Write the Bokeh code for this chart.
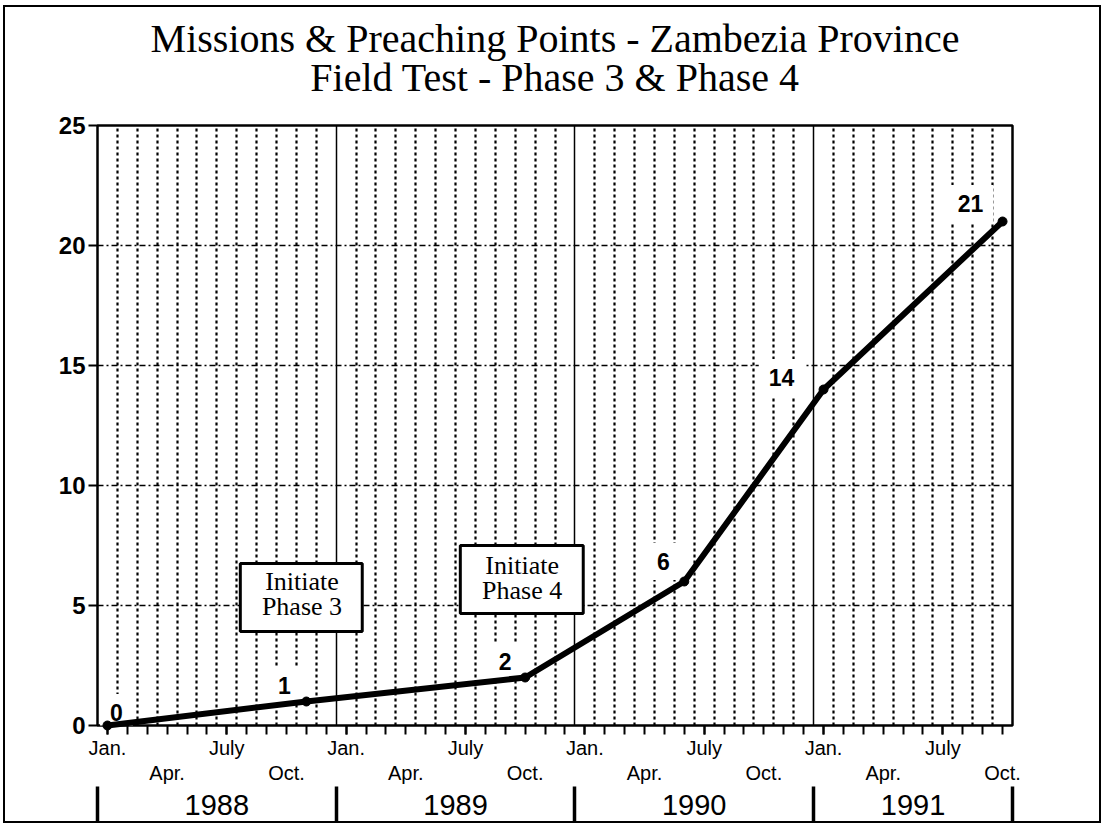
from bokeh.plotting import figure
from bokeh.models import (Range1d, LinearAxis, FixedTicker, Grid, Label,
                          BoxAnnotation, Title)
from bokeh.embed import file_html
from bokeh.resources import INLINE

# ---------------- data ----------------
dates = ["1988-01", "1988-11", "1989-10", "1990-06", "1991-01", "1991-10"]
counts = [0, 1, 2, 6, 14, 21]
years = ["1988", "1989", "1990", "1991"]
month_names = {0: "Jan.", 3: "Apr.", 6: "July", 9: "Oct."}
y_ticks = [0, 5, 10, 15, 20, 25]
title_lines = ["Missions & Preaching Points - Zambezia Province",
               "Field Test - Phase 3 & Phase 4"]
phase_notes = ["Initiate\nPhase 3", "Initiate\nPhase 4"]

# label placement (screen px offsets from each point)
label_dx = [9, -22, -20, -21, -42, -32]
label_dy = [13, 16, 16, 20, 12, 18]

START_YEAR = 1988


def month_index(s):
    y, m = s.split("-")
    return (int(y) - START_YEAR) * 12 + int(m) - 1


xs = [month_index(d) for d in dates]
n_months = month_index("1991-10") + 1

SANS = "Liberation Sans"
SERIF = "Liberation Serif"
INK = "black"

p = figure(width=1098, height=818,
           x_range=Range1d(-0.5, n_months - 0.5), y_range=Range1d(0, 25),
           output_backend="svg", toolbar_location=None,
           x_axis_type=None, y_axis_type=None,
           min_border_left=92, min_border_right=91,
           min_border_top=118, min_border_bottom=100)
p.styles = {"border": "2px solid black", "margin-left": "3px",
            "margin-top": "5px"}
p.outline_line_color = INK
p.outline_line_width = 2.5
p.outline_line_alpha = 1
p.background_fill_color = "white"
p.border_fill_color = "white"

# ---------------- grids ----------------
month_grid = [k + 0.5 for k in range(n_months - 1) if (k + 1) % 12 != 0]
year_grid = [12 * i - 0.5 for i in range(1, len(years))]
p.add_layout(Grid(dimension=0, ticker=FixedTicker(ticks=month_grid),
                  grid_line_color=INK, grid_line_dash="3 3",
                  grid_line_width=2.2))
p.add_layout(Grid(dimension=0, ticker=FixedTicker(ticks=year_grid),
                  grid_line_color=INK, grid_line_width=1.5))
p.add_layout(Grid(dimension=1, ticker=FixedTicker(ticks=y_ticks[1:-1]),
                  grid_line_color=INK, grid_line_dash="6 3 2 3",
                  grid_line_width=1.6))

# ---------------- y axis ----------------
yaxis = LinearAxis(ticker=FixedTicker(ticks=y_ticks),
                   major_tick_out=9, major_tick_in=0,
                   minor_tick_out=0, minor_tick_in=0,
                   major_tick_line_width=2, major_tick_line_color=INK,
                   axis_line_color=None,
                   major_label_text_font=SANS,
                   major_label_text_font_size="24px",
                   major_label_text_font_style="bold",
                   major_label_text_color=INK,
                   major_label_standoff=3)
p.add_layout(yaxis, "left")

# ---------------- x axes ----------------
all_months = list(range(n_months))
row1 = [m for m in all_months if m % 12 in (0, 6)]
row2 = [m for m in all_months if m % 12 in (3, 9)]
ax1 = LinearAxis(ticker=FixedTicker(ticks=row1, minor_ticks=all_months),
                 major_label_overrides={m: month_names[m % 12] for m in row1},
                 major_tick_out=9, major_tick_in=0,
                 minor_tick_out=9, minor_tick_in=0,
                 major_tick_line_width=2, minor_tick_line_width=2,
                 major_tick_line_color=INK, minor_tick_line_color=INK,
                 axis_line_color=None,
                 major_label_text_font=SANS, major_label_text_font_size="20px",
                 major_label_text_color=INK,
                 major_label_standoff=2)
p.add_layout(ax1, "below")
ax2 = LinearAxis(ticker=FixedTicker(ticks=row2),
                 major_label_overrides={m: month_names[m % 12] for m in row2},
                 major_tick_out=0, major_tick_in=0,
                 minor_tick_out=0, minor_tick_in=0,
                 axis_line_color=None,
                 major_label_text_font=SANS, major_label_text_font_size="20px",
                 major_label_text_color=INK,
                 major_label_standoff=0)
p.add_layout(ax2, "below")
year_centers = [12 * i + 5.5 for i in range(len(years) - 1)]
year_centers.append((12 * (len(years) - 1) - 0.5 + n_months - 0.5) / 2)
year_bounds = [-0.5] + year_grid + [n_months - 0.5]
ax3 = LinearAxis(ticker=FixedTicker(ticks=year_centers, minor_ticks=year_bounds),
                 major_label_overrides={c: y for c, y in zip(year_centers, years)},
                 major_tick_out=0, major_tick_in=0,
                 minor_tick_out=45, minor_tick_in=0,
                 minor_tick_line_width=3.5, minor_tick_line_color=INK,
                 axis_line_color=None,
                 major_label_text_font=SANS, major_label_text_font_size="29px",
                 major_label_text_color=INK,
                 major_label_standoff=-37)
p.add_layout(ax3, "below")

# ---------------- title (two centred lines) ----------------
p.add_layout(Title(text=" ", text_font_size="10px", standoff=0), "above")
t2 = Title(text=title_lines[1], align="center",
           text_font=SERIF, text_font_size="40px",
           text_font_style="normal", text_color=INK, standoff=26)
p.add_layout(t2, "above")
t1 = Title(text=title_lines[0], align="center",
           text_font=SERIF, text_font_size="40px",
           text_font_style="normal", text_color=INK, standoff=0)
try:
    t1.standoff = -42
except Exception:
    t2.standoff = 14
p.add_layout(t1, "above")

# ---------------- phase boxes ----------------
p.add_layout(BoxAnnotation(left=6.68, right=12.81, bottom=3.92, top=6.75,
                           fill_color="white", fill_alpha=1,
                           line_color=INK, line_alpha=1, line_width=3))
p.add_layout(Label(x=9.78, y=5.48, text=phase_notes[0], text_align="center",
                   text_baseline="middle", text_font=SERIF, text_color=INK,
                   text_font_size="26px", text_line_height=0.88))
p.add_layout(BoxAnnotation(left=17.74, right=23.92, bottom=4.67, top=7.5,
                           fill_color="white", fill_alpha=1,
                           line_color=INK, line_alpha=1, line_width=3))
p.add_layout(Label(x=20.85, y=6.15, text=phase_notes[1], text_align="center",
                   text_baseline="middle", text_font=SERIF, text_color=INK,
                   text_font_size="26px", text_line_height=0.88))

# ---------------- data labels ----------------
for xi, yi, c, dx, dy in zip(xs, counts, counts, label_dx, label_dy):
    p.add_layout(Label(x=xi, y=yi, x_offset=dx, y_offset=dy, text=str(c),
                       text_align="center", text_baseline="middle",
                       text_font=SANS, text_font_size="23px",
                       text_font_style="bold", text_color=INK,
                       background_fill_color="white", padding=10))

# ---------------- data line ----------------
line = p.line(xs, counts, line_color=INK, line_width=6,
              line_join="round", line_cap="round")
line.level = "overlay"
pts = p.scatter(xs, counts, marker="circle", size=9, color=INK)
pts.level = "overlay"

open("out.html", "w").write(file_html(p, INLINE))
